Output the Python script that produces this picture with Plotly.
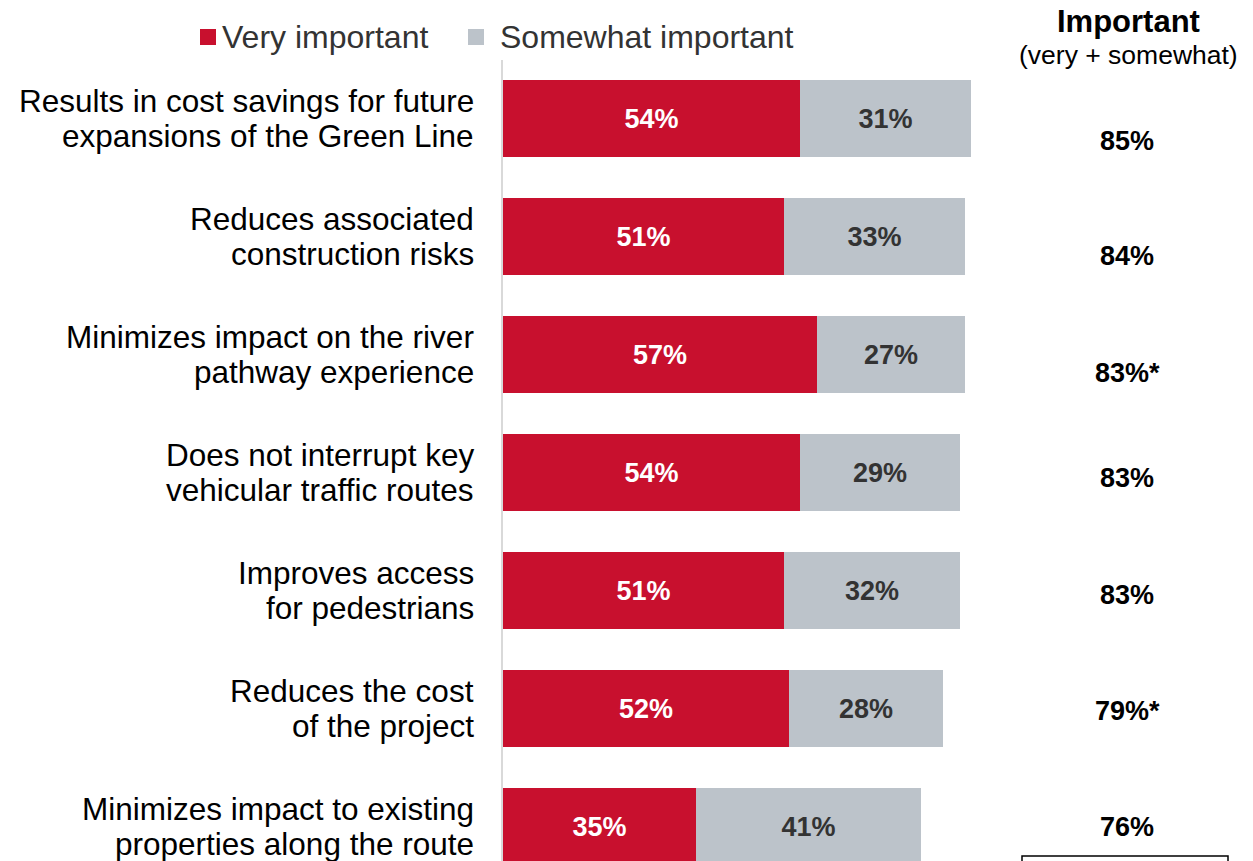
import plotly.graph_objects as go

# Survey results: importance of each consideration
categories = [
    "Results in cost savings for future<br>expansions of the Green Line",
    "Reduces associated<br>construction risks",
    "Minimizes impact on the river<br>pathway experience",
    "Does not interrupt key<br>vehicular traffic routes",
    "Improves access<br>for pedestrians",
    "Reduces the cost<br>of the project",
    "Minimizes impact to existing<br>properties along the route",
]
very_important = [54, 51, 57, 54, 51, 52, 35]
somewhat_important = [31, 33, 27, 29, 32, 28, 41]
important_total = [85, 84, 83, 83, 83, 79, 76]
total_flag = ["", "", "*", "", "", "*", ""]
series_names = ["Very important", "Somewhat important"]

# styling
W, H = 1253, 861
RED = "#C8102E"
GRAY = "#BCC3CA"
SANS = "Liberation Sans, Arial, sans-serif"
PX_PER_PCT = 5.5
PLOT_LEFT, PLOT_TOP = 503, 60
ROW_PX = 118
FIRST_ROW_PX = 118.5
LINE_PX = 35
total_yshift = [-22, -19, -18, -5, -4, -2, 0]

rows = list(range(len(categories)))

def px_x(p):
    return p / W

def px_y(p):
    return 1 - p / H

fig = go.Figure()
fig.add_trace(go.Bar(
    y=rows, x=very_important, orientation="h", name=series_names[0],
    marker=dict(color=RED, line=dict(width=0)),
    texttemplate="%{x}%", textposition="inside", insidetextanchor="middle",
    textfont=dict(family=SANS, size=27, color="white", weight="bold"),
    width=0.655, showlegend=False,
))
fig.add_trace(go.Bar(
    y=rows, x=somewhat_important, orientation="h", name=series_names[1],
    marker=dict(color=GRAY, line=dict(width=0)),
    texttemplate="%{x}%", textposition="inside", insidetextanchor="middle",
    textfont=dict(family=SANS, size=27, color="#333333", weight="bold"),
    width=0.655, showlegend=False,
))

annotations = []
# category labels, one annotation per line, right aligned against the axis
for r, cat in zip(rows, categories):
    lines = cat.split("<br>")
    n = len(lines)
    for i, line in enumerate(lines):
        annotations.append(dict(
            x=px_x(476), xref="paper", y=r, yref="y",
            yshift=(n - 1) / 2 * LINE_PX - i * LINE_PX, text=line,
            xanchor="right", yanchor="middle", align="right", showarrow=False,
            font=dict(family=SANS, size=31.5, color="#000000"),
        ))
# combined importance column
for r, t, f, ys in zip(rows, important_total, total_flag, total_yshift):
    annotations.append(dict(
        x=px_x(1127), xref="paper", y=r, yref="y", yshift=ys,
        text=f"<b>{t}%{f}</b>", xanchor="center", yanchor="middle",
        showarrow=False,
        font=dict(family=SANS, size=27, color="#000000"),
    ))
annotations.append(dict(
    x=px_x(1128), xref="paper", y=px_y(21.5), yref="paper",
    text="<b>Important</b>", xanchor="center", yanchor="middle",
    showarrow=False, borderpad=0,
    font=dict(family=SANS, size=31, color="#000000"),
))
annotations.append(dict(
    x=px_x(1128), xref="paper", y=px_y(54.5), yref="paper",
    text="(very + somewhat)", xanchor="center", yanchor="middle",
    showarrow=False, borderpad=0,
    font=dict(family=SANS, size=26.5, color="#000000"),
))
# legend drawn by hand
legend_items = [(RED, 200, 220), (GRAY, 468, 498)]
shapes = []
for (col, sq_x, tx), name in zip(legend_items, series_names):
    shapes.append(dict(
        type="rect", xref="paper", yref="paper",
        x0=px_x(sq_x), x1=px_x(sq_x + 16), y0=px_y(29), y1=px_y(45),
        fillcolor=col, line=dict(width=0),
    ))
    annotations.append(dict(
        x=px_x(tx), xref="paper", y=px_y(37), yref="paper", text=name,
        xanchor="left", yanchor="middle", showarrow=False,
        font=dict(family=SANS, size=32, color="#333333"),
    ))
# note box at the bottom right
shapes.append(dict(
    type="rect", xref="paper", yref="paper",
    x0=px_x(1022), x1=px_x(1228), y0=px_y(900), y1=px_y(856),
    line=dict(color="#000000", width=1.5), fillcolor="rgba(0,0,0,0)",
))

y_top = -(FIRST_ROW_PX - PLOT_TOP) / ROW_PX
y_bottom = (H - FIRST_ROW_PX) / ROW_PX

fig.update_layout(
    width=W, height=H, autosize=False,
    margin=dict(l=0, r=0, t=0, b=0, pad=0),
    barmode="stack", bargap=0,
    paper_bgcolor="white", plot_bgcolor="white",
    xaxis=dict(domain=[PLOT_LEFT / W, 1], range=[0, (W - PLOT_LEFT) / PX_PER_PCT],
               visible=False, fixedrange=True),
    yaxis=dict(domain=[0, 1 - PLOT_TOP / H], range=[y_bottom, y_top],
               showticklabels=False, ticks="", showgrid=False, zeroline=False,
               showline=True, linecolor="#D9D9D9", linewidth=2, fixedrange=True),
    annotations=annotations, shapes=shapes,
    showlegend=False,
)

fig.write_html("out.html")
